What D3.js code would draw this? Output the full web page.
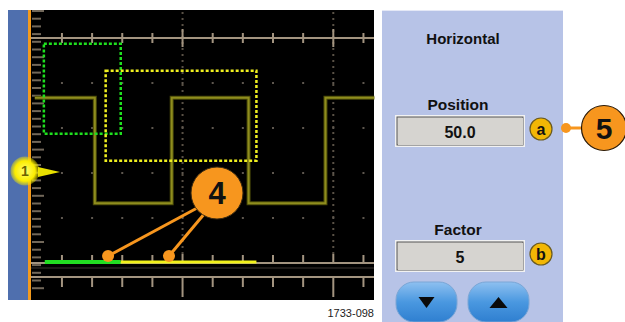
<!DOCTYPE html>
<html><head><meta charset="utf-8">
<script src="https://cdn.jsdelivr.net/npm/d3@7"></script>
<style>body{margin:0;background:#fff}svg{display:block}</style>
</head><body>
<script>
// ---- data ----
const waveTimes  = [0.1, 2.09, 2.09, 4.64, 4.64, 7.19, 7.19, 9.74, 9.74, 11.36]; // divisions
const waveLevels = [3.67, 3.67, 1.33, 1.33, 3.67, 3.67, 1.33, 1.33, 3.67, 3.67]; // divisions
const gratCols = [-1,0,1,2,3,4,5,6,7,8,9,10,11];
const gratRows = [0,1,2,3,4,5];
const majorCols = [5, 10];
const zoomBoxTime = [0.4, 2.95];     // green box (t0,t1)
const zoomBoxLevel = [2.87, 4.87];
const zoomWinTime = [2.45, 7.45];    // yellow box
const zoomWinLevel = [2.27, 4.27];
const barGreen = [0.43, 2.95];
const barYellow = [2.95, 7.45];
const calloutDots = [2.53, 4.55];
const panelTitle = "Horizontal";
const panelLabels = ["Position", "Factor"];
const panelValues = ["50.0", "5"];
const knobLabels = ["a", "b"];
const callouts = ["4", "5"];
const figId = "1733-098";

const W = 625, H = 322;
const svg = d3.select("body").append("svg").attr("width", W).attr("height", H);
const x = d3.scaleLinear().domain([0, 10]).range([31.8, 333.3]);
const y = d3.scaleLinear().domain([0, 5]).range([263, 38]);
const grat = "#a39480";

// scope background
svg.append("rect").attr("x", 8).attr("y", 10).attr("width", 366).attr("height", 290).attr("fill", "#000");
svg.append("rect").attr("x", 8).attr("y", 10).attr("width", 20).attr("height", 290).attr("fill", "#4f6fae");
svg.append("rect").attr("x", 28).attr("y", 10).attr("width", 3).attr("height", 290).attr("fill", "#f29a1e");

// left ticks
const leftT = d3.range(0, 37).map(i => 11 + i * 7.7);
svg.append("g").selectAll("line").data(leftT).join("line")
  .attr("x1", 32).attr("x2", (d, i) => (i % 6 === 0 ? 44 : 41))
  .attr("y1", d => d).attr("y2", d => d).attr("stroke", grat).attr("stroke-width", 2).attr("opacity", 0.7);

// horizontal graticule lines
[y(5), y(0), y(0) + 14].forEach(v => svg.append("line").attr("x1", 31).attr("x2", 374)
  .attr("y1", v).attr("y2", v).attr("stroke", grat).attr("stroke-width", 2));
svg.append("line").attr("x1", 31).attr("x2", 374).attr("y1", y(0) + 5).attr("y2", y(0) + 5)
  .attr("stroke", "#3a3430").attr("stroke-width", 1);

// ticks on lines
const cols = gratCols.filter(c => x(c) > 40 && x(c) < 374);
svg.append("g").selectAll("line").data(cols).join("line")
  .attr("x1", d => x(d)).attr("x2", d => x(d))
  .attr("y1", d => y(5) - (majorCols.includes(d) ? 9 : 5)).attr("y2", d => y(5) + (majorCols.includes(d) ? 9 : 5))
  .attr("stroke", grat).attr("stroke-width", 2);
svg.append("g").selectAll("line").data(cols).join("line")
  .attr("x1", d => x(d)).attr("x2", d => x(d))
  .attr("y1", d => y(0) - (majorCols.includes(d) ? 9 : 8)).attr("y2", d => y(0))
  .attr("stroke", grat).attr("stroke-width", 2);
svg.append("g").selectAll("line").data(cols).join("line")
  .attr("x1", d => x(d)).attr("x2", d => x(d))
  .attr("y1", y(0) + 14).attr("y2", d => y(0) + (majorCols.includes(d) ? 34 : 24))
  .attr("stroke", grat).attr("stroke-width", 2);

// dotted major verticals
majorCols.forEach(c => svg.append("line").attr("x1", x(c)).attr("x2", x(c)).attr("y1", 12).attr("y2", y(0) - 8)
  .attr("stroke", grat).attr("stroke-width", 2).attr("stroke-dasharray", "2,4").attr("opacity", 0.55));

// grid dots
const dots = [];
gratRows.slice(1, 5).forEach(r => cols.forEach(c => dots.push([c, r])));
svg.append("g").selectAll("rect").data(dots).join("rect")
  .attr("x", d => x(d[0]) - 1).attr("y", d => y(d[1]) - 1).attr("width", 2).attr("height", 2)
  .attr("fill", "#5e574f");

// waveform
const line = d3.line().x(d => x(d[0])).y(d => y(d[1]));
const wpts = waveTimes.map((t, i) => [t, waveLevels[i]]);
svg.append("path").attr("d", line(wpts)).attr("fill", "none").attr("stroke", "#4a4a08").attr("stroke-width", 4);
svg.append("path").attr("d", line(wpts)).attr("fill", "none").attr("stroke", "#8f8d1e").attr("stroke-width", 2);

// zoom boxes
function box(tt, ll, col) {
  svg.append("rect").attr("x", x(tt[0])).attr("y", y(ll[1]))
    .attr("width", x(tt[1]) - x(tt[0])).attr("height", y(ll[0]) - y(ll[1]))
    .attr("fill", "none").attr("stroke", col).attr("stroke-width", 2.5).attr("stroke-dasharray", "3,2");
}
box(zoomBoxTime, zoomBoxLevel, "#1fe01f");
box(zoomWinTime, zoomWinLevel, "#f0f020");

// bottom bars
svg.append("line").attr("x1", x(barGreen[0])).attr("x2", x(barGreen[1])).attr("y1", y(0) - 1).attr("y2", y(0) - 1)
  .attr("stroke", "#22dd22").attr("stroke-width", 4);
svg.append("line").attr("x1", x(barYellow[0])).attr("x2", x(barYellow[1])).attr("y1", y(0) - 1).attr("y2", y(0) - 1)
  .attr("stroke", "#f2f21a").attr("stroke-width", 3);

// channel 1 marker
const m = svg.append("g");
const rg = svg.append("defs").append("radialGradient").attr("id", "glow");
rg.append("stop").attr("offset", "0%").attr("stop-color", "#ffff70");
rg.append("stop").attr("offset", "70%").attr("stop-color", "#fbec00");
rg.append("stop").attr("offset", "100%").attr("stop-color", "#f5e800").attr("stop-opacity", 0.35);
m.append("path").attr("d", `M38,${y(2) - 6} L60,${y(2) - 1} L38,${y(2) + 4} Z`).attr("fill", "#e8e000");
m.append("circle").attr("cx", 25).attr("cy", y(2) - 2).attr("r", 14.5).attr("fill", "url(#glow)");
m.append("text").attr("x", 25).attr("y", y(2) + 3).attr("text-anchor", "middle")
  .attr("font-family", "Liberation Sans, Arial").attr("font-weight", "bold").attr("font-size", 14).attr("fill", "#6a6200").text("1");

// callout 4
const orange = "#f7961e";
const c4 = [217, 193];
calloutDots.forEach((t, i) => {
  svg.append("line").attr("x1", c4[0] - 18 + i * 6).attr("y1", c4[1] + 14 + i * 6)
    .attr("x2", x(t)).attr("y2", 256).attr("stroke", orange).attr("stroke-width", 3);
  svg.append("circle").attr("cx", x(t)).attr("cy", 256).attr("r", 6).attr("fill", orange);
});
svg.append("circle").attr("cx", c4[0]).attr("cy", c4[1]).attr("r", 26).attr("fill", orange)
  .attr("stroke", "#3a2a10").attr("stroke-width", 1);
svg.append("text").attr("x", c4[0]).attr("y", c4[1] + 11).attr("text-anchor", "middle")
  .attr("font-family", "Liberation Sans Narrow, Liberation Sans, Arial").attr("font-weight", "bold").attr("font-size", 31).attr("fill", "#111").text(callouts[0]);

// fig id
svg.append("text").attr("x", 374).attr("y", 317).attr("text-anchor", "end")
  .attr("font-family", "Liberation Sans Narrow, Liberation Sans, Arial").attr("font-size", 11).attr("fill", "#222").text(figId);

// right panel
svg.append("rect").attr("x", 382).attr("y", 10).attr("width", 181).attr("height", 312).attr("fill", "#b7c3e7");
svg.append("line").attr("x1", 382).attr("x2", 563).attr("y1", 10.5).attr("y2", 10.5).attr("stroke", "#e4e8f6");
const ff = "Liberation Sans, Arial, sans-serif";
svg.append("text").attr("x", 463).attr("y", 44).attr("text-anchor", "middle").attr("font-family", ff)
  .attr("font-weight", "bold").attr("font-size", 15).attr("fill", "#111").text(panelTitle);

const rowsY = [115, 240];
panelLabels.forEach((lab, i) => {
  const by = rowsY[i];
  svg.append("text").attr("x", 458).attr("y", by - 5).attr("text-anchor", "middle").attr("font-family", ff)
    .attr("font-weight", "bold").attr("font-size", 15.5).attr("fill", "#111").text(lab);
  svg.append("rect").attr("x", 395).attr("y", by).attr("width", 130).attr("height", 32).attr("fill", "#f2f2f2");
  svg.append("rect").attr("x", 397).attr("y", by + 2).attr("width", 126).attr("height", 28).attr("fill", "#d6d4d0")
    .attr("stroke", "#555").attr("stroke-width", 1);
  svg.append("rect").attr("x", 398.5).attr("y", by + 3.5).attr("width", 124).attr("height", 26).attr("fill", "none")
    .attr("stroke", "#d6d4d0").attr("stroke-width", 1);
  svg.append("text").attr("x", 460).attr("y", by + 23).attr("text-anchor", "middle").attr("font-family", ff)
    .attr("font-weight", "bold").attr("font-size", 16).attr("fill", "#111").text(panelValues[i]);
  svg.append("circle").attr("cx", 541).attr("cy", by + 14).attr("r", 11).attr("fill", "#f2b705")
    .attr("stroke", "#6a5a20").attr("stroke-width", 1.2);
  svg.append("text").attr("x", 541).attr("y", by + 20).attr("text-anchor", "middle").attr("font-family", ff)
    .attr("font-weight", "bold").attr("font-size", 16).attr("fill", "#111").text(knobLabels[i]);
});

// callout 5
svg.append("line").attr("x1", 566).attr("x2", 584).attr("y1", 128).attr("y2", 128).attr("stroke", orange).attr("stroke-width", 3);
svg.append("circle").attr("cx", 566).attr("cy", 128).attr("r", 5).attr("fill", orange);
svg.append("circle").attr("cx", 604).attr("cy", 128).attr("r", 22.5).attr("fill", orange)
  .attr("stroke", "#2a1a08").attr("stroke-width", 1.2);
svg.append("text").attr("x", 604).attr("y", 139).attr("text-anchor", "middle")
  .attr("font-family", "Liberation Sans Narrow, Liberation Sans, Arial").attr("font-weight", "bold").attr("font-size", 30).attr("fill", "#111").text(callouts[1]);

// buttons
const bg = svg.select("defs").append("linearGradient").attr("id", "btn").attr("x1", 0).attr("x2", 0).attr("y1", 0).attr("y2", 1);
bg.append("stop").attr("offset", "0%").attr("stop-color", "#8ec0f0");
bg.append("stop").attr("offset", "50%").attr("stop-color", "#4a98e0");
bg.append("stop").attr("offset", "100%").attr("stop-color", "#2f7fd0");
[[396, "down"], [468, "up"]].forEach(([bx, dir]) => {
  svg.append("rect").attr("x", bx).attr("y", 282).attr("width", 61).attr("height", 40).attr("rx", 18)
    .attr("fill", "url(#btn)").attr("stroke", "#7aa6d6").attr("stroke-width", 1);
  const cx = bx + 30.5, cy = 303;
  const d = dir === "down" ? `M${cx - 8},${cy - 6} L${cx + 8},${cy - 6} L${cx},${cy + 5} Z`
                           : `M${cx - 9},${cy + 5} L${cx + 9},${cy + 5} L${cx},${cy - 6} Z`;
  svg.append("path").attr("d", d).attr("fill", "#0a0a0a");
});
</script>
</body></html>
